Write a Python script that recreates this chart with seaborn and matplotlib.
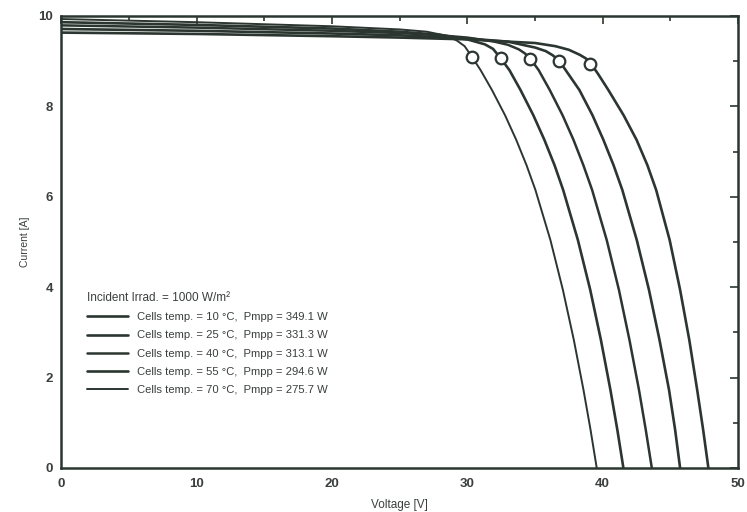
import matplotlib
matplotlib.use("Agg")
import matplotlib.pyplot as plt
import seaborn as sns
import pandas as pd
from matplotlib.ticker import MultipleLocator

temps = [10, 25, 40, 55, 70]
pmpp = [349.1, 331.3, 313.1, 294.6, 275.7]

v_10 = [0, 10, 20, 25, 30, 33, 35.0, 36.5, 37.5, 38.3, 38.75, 39.07, 39.65, 40.42, 41.55, 42.5, 43.3, 43.95, 44.95, 45.72, 46.4, 46.98, 47.42, 47.81]
i_10 = [9.63, 9.60, 9.55, 9.52, 9.48, 9.43, 9.40, 9.33, 9.25, 9.14, 9.06, 8.97, 8.72, 8.36, 7.80, 7.26, 6.70, 6.15, 5.04, 3.94, 2.83, 1.73, 0.85, 0.0]

v_25 = [0, 10, 20, 25, 30, 33, 35, 35.8, 36.3, 36.78, 37.45, 38.28, 39.25, 40.05, 40.8, 41.45, 42.52, 43.42, 44.2, 44.9, 45.35, 45.72]
i_25 = [9.71, 9.67, 9.61, 9.57, 9.50, 9.43, 9.30, 9.22, 9.13, 9.01, 8.72, 8.36, 7.80, 7.26, 6.70, 6.15, 5.04, 3.94, 2.83, 1.73, 0.85, 0.0]

v_40 = [0, 10, 20, 25, 28, 30, 32, 33.0, 33.8, 34.25, 34.64, 35.27, 36.09, 37.04, 37.84, 38.57, 39.22, 40.30, 41.20, 41.98, 42.68, 43.18, 43.63]
i_40 = [9.79, 9.74, 9.67, 9.62, 9.57, 9.52, 9.43, 9.36, 9.26, 9.17, 9.06, 8.80, 8.36, 7.80, 7.26, 6.70, 6.15, 5.04, 3.94, 2.83, 1.73, 0.85, 0.0]

v_55 = [0, 10, 20, 25, 28, 30, 31.3, 31.9, 32.47, 33.11, 33.93, 34.88, 35.69, 36.44, 37.08, 38.17, 39.08, 39.87, 40.57, 41.08, 41.53]
i_55 = [9.86, 9.80, 9.72, 9.65, 9.58, 9.48, 9.37, 9.27, 9.06, 8.80, 8.36, 7.80, 7.26, 6.70, 6.15, 5.04, 3.94, 2.83, 1.73, 0.85, 0.0]

v_70 = [0, 10, 20, 25, 27, 28.3, 29.2, 29.8, 30.33, 30.98, 31.82, 32.79, 33.61, 34.37, 35.03, 36.14, 37.06, 37.87, 38.58, 39.10, 39.56]
i_70 = [9.93, 9.86, 9.77, 9.70, 9.65, 9.57, 9.46, 9.33, 9.10, 8.80, 8.36, 7.80, 7.26, 6.70, 6.15, 5.04, 3.94, 2.83, 1.73, 0.85, 0.0]

vmpp = [39.07, 36.78, 34.64, 32.47, 30.33]

volts = [v_10, v_25, v_40, v_55, v_70]
amps = [i_10, i_25, i_40, i_55, i_70]

x_ticks = [0, 10, 20, 30, 40, 50]
y_ticks = [0, 2, 4, 6, 8, 10]

sns.set_theme(style="white")
plt.rcParams['font.family'] = ['Liberation Sans', 'DejaVu Sans']

line_col = '#2c3631'
text_col = '#3a3f3c'

fig = plt.figure(figsize=(7.47, 5.12), dpi=100)
ax = fig.add_axes([0.082, 0.086, 0.906, 0.883])

rows = []
for t, vs, cs in zip(temps, volts, amps):
    for v, c in zip(vs, cs):
        rows.append({"temp": t, "V": v, "I": c})
df = pd.DataFrame(rows)

mpp = pd.DataFrame({"temp": temps, "V": vmpp,
                    "I": [p / v for p, v in zip(pmpp, vmpp)]})

lws = [1.9, 1.9, 1.8, 1.9, 1.4]
for t, p, lw in zip(temps, pmpp, lws):
    sub = df[df["temp"] == t]
    sns.lineplot(data=sub, x="V", y="I", ax=ax, color=line_col, lw=lw,
                 estimator=None, sort=False,
                 label=f"Cells temp. = {t} °C,  Pmpp = {p} W")

sns.scatterplot(data=mpp, x="V", y="I", ax=ax, s=70, marker='o',
                facecolor='white', edgecolor=line_col, linewidth=1.6,
                zorder=5, legend=False)

ax.set_xlim(0, 50)
ax.set_ylim(0, 10)
ax.set_xticks(x_ticks)
ax.set_yticks(y_ticks)
ax.xaxis.set_minor_locator(MultipleLocator(5))
ax.yaxis.set_minor_locator(MultipleLocator(1))
ax.tick_params(which='both', direction='in', top=True, right=True,
               color=line_col, width=1.2, labelsize=9.5, labelcolor=text_col)
ax.tick_params(which='major', length=6)
ax.tick_params(which='minor', length=3.5)
ax.tick_params(axis='x', which='major', pad=7)
ax.tick_params(axis='y', which='major', pad=6)
for lab in ax.get_xticklabels() + ax.get_yticklabels():
    lab.set_fontweight('bold')
for s in ax.spines.values():
    s.set_color(line_col)
    s.set_linewidth(1.8)

ax.set_xlabel("Voltage [V]", fontsize=8.5, color=text_col, labelpad=7)
ax.set_ylabel("Current [A]", fontsize=7.5, color=text_col, labelpad=6)

leg = ax.legend(loc='lower left', bbox_to_anchor=(0.031, 0.152), frameon=False,
                title="Incident Irrad. = 1000 W/m²", alignment='left',
                fontsize=8.1, title_fontproperties={'size': 8.5},
                handlelength=3.7, handletextpad=0.8, labelspacing=0.72,
                borderaxespad=0)
for txt in leg.get_texts():
    txt.set_color(text_col)
leg.get_title().set_color(text_col)
leg._legend_box.sep = 6

fig.savefig("out.png", dpi=100, facecolor='white')
